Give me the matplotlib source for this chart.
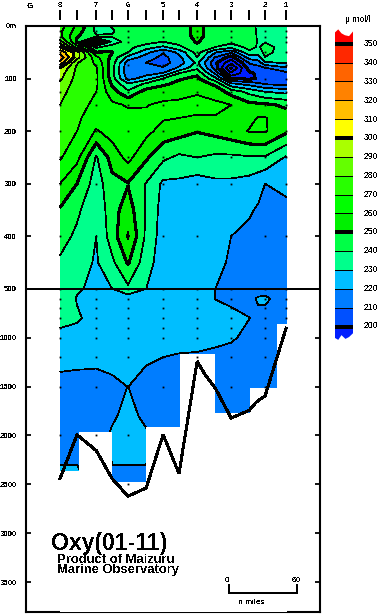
import numpy as np
import matplotlib
matplotlib.use("Agg")
import matplotlib.pyplot as plt
from matplotlib.path import Path
from matplotlib.patches import PathPatch

plt.rcParams['font.family'] = ['Liberation Sans', 'DejaVu Sans']
plt.rcParams['text.antialiased'] = False

# ---------- data ----------
depths = [0, 10, 20, 30, 40, 50, 60, 70, 80, 90, 100, 110, 125, 150, 175, 200, 250, 300, 350,
          400, 450, 500, 600, 800, 1000, 1200, 1500, 1800, 2000, 2300, 2500]
# distance along the section, n.miles from station 8
section_dist = [0, 15, 32, 46, 60, 76, 91, 105, 121, 137, 151, 167, 175, 181, 199.5]

c8 = [275, 272, 272, 285, 302, 316, 328, 316, 300, 295, 292, 288, 284, 280, 278, 275, 271, 260, 249,
      244, 238.5, 237, 236, 232, 228, 224, 216, 215, 215, 220, 225]
c75 = [258, 255, 251, 248, 265, 296, 294, 281, 278, 277, 276, 275, 274, 273, 271.5, 270, 263, 250, 242,
       238, 234, 231, 229.5, 231, 227, 223, 216, 215, 215, 220, 225]
c7 = [238, 238, 241, 198, 238, 250.5, 263, 268, 271, 272, 272, 272, 270, 268, 265, 259, 239, 235, 232,
      230, 229, 228, 227, 227, 227, 222.5, 216, 214, 214, 216, 216]
c65 = [240.5, 239, 241, 233, 245, 250.5, 247, 245, 244, 243, 245, 248.5, 254, 262, 264, 264, 254, 247, 246,
       245, 238, 230, 226, 226, 226, 223, 218, 218, 222, 220, 216]
c6 = [246, 246, 246, 245, 243, 240, 226, 214, 212, 213, 216, 231, 242, 259, 263, 265, 263, 249.5, 255,
      261, 251, 238, 224, 227, 227, 225, 220.1, 224, 225, 220, 217]
c55 = [245, 245, 245, 244, 235, 223, 215, 210, 211, 216.5, 225, 242, 254, 259.5, 262, 263, 251.5, 239.5, 239,
       238, 234, 230, 227, 226, 225, 222, 215, 217, 222, 220, 216]
c5 = [245, 245, 244, 240, 228, 211, 207, 206, 211, 221, 240, 248.5, 255, 262, 261, 256, 242, 228, 226,
      225, 225, 225, 225, 225, 225, 220, 215, 214, 213, 213, 213]
c45 = [245, 245, 245, 243, 238, 223, 216, 215, 222, 240, 249, 252, 257, 262, 260, 254, 238, 228, 226,
       225, 225, 225, 225, 225, 224, 219, 214, 213, 213, 213, 213]
c4 = [253, 253, 252.5, 251, 247, 244, 240, 232, 238, 248, 252, 255, 259, 263, 259, 250.5, 240, 225, 225,
      225, 224, 224, 224, 224, 224, 218.5, 214, 213, 213, 213, 213]
c35 = [245, 245, 245, 243, 240, 221, 209, 202, 205, 218, 233, 248, 256, 262, 259.5, 253, 238, 228, 226,
       224, 222, 220, 219.9, 222, 222, 218, 214, 213, 213, 213, 213]
c3 = [245, 245, 245, 243, 234, 212, 195, 182, 168, 182, 200, 222, 246, 260, 258, 256, 238, 228, 224,
      220, 219, 218, 218.5, 222, 221, 217, 216, 215, 215, 215, 215]
c25 = [242, 243, 244, 245, 243, 238, 224, 211, 205, 198, 198, 216, 237, 253, 258, 260.5, 239, 226, 221,
       218, 217, 217, 218, 220.1, 218, 215, 214, 214, 214, 214, 214]
c225 = [239, 239, 239, 239, 239, 235, 226, 215, 206, 202, 201, 212, 233, 252.5, 260.5, 261, 239, 223, 219,
        217, 216, 216, 221, 218, 216, 214, 214, 214, 214, 214, 214]
c2 = [237, 237, 238, 239.5, 243, 243, 239.5, 228, 209, 205, 203, 209, 230, 252, 260.5, 261, 239, 220, 217,
      216, 215.5, 215, 222, 216, 215, 214, 214, 214, 214, 214, 214]
c1 = [236, 236, 236, 236, 236, 235, 233, 231, 218, 207, 204, 206, 227, 248, 255, 252, 229, 222, 218,
      216, 215, 214, 214, 213, 213, 213, 213, 213, 213, 213, 213]

# white area below the deepest reading of each station
cell_edges = [0, 16.8, 45.9, 75.6, 105.9, 136.8, 167.6, 191.2, 200]
cell_bottom = [2367, 1966, 2473, 1914, 1168, 1770, 1514, 860]

# sea bottom profile
bottom_dist = [0, 15, 32, 46, 60, 76, 91, 105, 121, 128, 137, 151, 167, 173, 181, 199.5]
bottom_depth = [2441, 1992, 2155, 2441, 2622, 2537, 1992, 2390, 1242, 1379, 1515, 1822, 1743, 1661, 1593, 902]

# stations
station_labels = ['8', '7', '6', '5', '4', '3', '2', '1']
station_dist = [0, 32, 60, 91, 121, 151, 181, 199.5]
station_bottom = [2441, 2155, 2622, 1992, 1242, 1822, 1593, 902]
half_station_dist = [15, 46, 76, 105, 137, 167]
sample_depths = [10, 20, 30, 50, 75, 100, 125, 150, 200, 250, 300, 400, 500, 600, 700, 800, 900, 1000,
                 1200, 1500, 2000, 2500]

# axis
depth_ticks = [0, 100, 200, 300, 400, 500, 1000, 1500, 2000, 2500, 3000, 3500]
depth_labels = ['0m', '100', '200', '300', '400', '500', '1000', '1500', '2000', '2500', '3000', '3500']

# colour scale: lower bound -> colour
band_levels = [160, 170, 180, 190, 200, 210, 220, 230, 240, 250, 260, 270, 280, 290, 300, 310, 320, 330, 340, 350, 400]
band_rgb = [(0, 30, 255), (0, 30, 255), (0, 30, 255), (0, 30, 255), (0, 80, 255), (0, 125, 255), (0, 190, 255),
            (0, 255, 140), (0, 255, 70), (0, 240, 0), (0, 255, 0), (40, 255, 0), (100, 255, 0), (170, 255, 0),
            (255, 255, 0), (255, 190, 0), (255, 130, 0), (255, 100, 0), (255, 40, 0), (255, 0, 0)]
cbar_ticks = [200, 210, 220, 230, 240, 250, 260, 270, 280, 290, 300, 310, 320, 330, 340, 350]
thick_levels = [200, 250, 300, 350]
thin_levels = [v for v in band_levels[:-1] if v not in thick_levels]

# ---------- figure ----------
W, H = 381, 616
dpi = 100
fig = plt.figure(figsize=(W / dpi, H / dpi), dpi=dpi, facecolor='white')


def box(x0, y0, x1, y1):
    return [x0 / W, 1 - y1 / H, (x1 - x0) / W, (y1 - y0) / H]


ax = fig.add_axes(box(26, 26, 320, 612))
upper_rate, lower_rate = 0.526, 0.0978


def forward(d):
    d = np.asarray(d, dtype=float)
    return np.where(d <= 500, d * upper_rate, 500 * upper_rate + (d - 500) * lower_rate)


def inverse(p):
    p = np.asarray(p, dtype=float)
    knee = 500 * upper_rate
    return np.where(p <= knee, p / upper_rate, 500 + (p - knee) / lower_rate)


ax.set_yscale('function', functions=(forward, inverse))
ax.set_xlim(-30, 229.4)
ax.set_ylim(3806, 0)

Z = np.array([c8, c75, c7, c65, c6, c55, c5, c45, c4, c35, c3, c25, c225, c2, c1]).T
colors = ['#%02x%02x%02x' % c for c in band_rgb]
ax.contourf(section_dist, depths, Z, levels=band_levels, colors=colors, antialiased=False, zorder=1)
ax.contour(section_dist, depths, Z, levels=thin_levels, colors='k', linewidths=0.5,
           antialiased=False, zorder=2)
ax.contour(section_dist, depths, Z, levels=thick_levels, colors='k', linewidths=1.5,
           antialiased=False, zorder=2)

ax.fill_between(cell_edges, cell_bottom + cell_bottom[-1:], 3806, step='post', color='white', lw=0, zorder=3)
ax.plot(bottom_dist, bottom_depth, color='k', lw=1.45, zorder=4, solid_joinstyle='miter', antialiased=False)

# sample dots
for sx, sb in zip(station_dist, station_bottom):
    ds = [d for d in sample_depths if d <= sb]
    ax.plot([sx] * len(ds), ds, ls='', marker='s', ms=1.3, mew=0, color='k', zorder=5)

ax.axhline(500, color='k', lw=1.3, zorder=6, antialiased=False)

ax.set_xticks([])
ax.set_yticks(depth_ticks)
ax.set_yticklabels(depth_labels, fontsize=5.6, fontweight='bold')
ax.yaxis.set_minor_locator(matplotlib.ticker.NullLocator())
ax.tick_params(axis='y', which='major', direction='in', left=True, right=True, length=3.6, width=1.3, pad=6.5)
for s in ax.spines.values():
    s.set_linewidth(1.5)

# station ticks above the frame
tr = ax.get_xaxis_transform()
ax.vlines(station_dist + half_station_dist, 1.0102, 1.0273, transform=tr, color='k', lw=1.2, clip_on=False,
          antialiased=False)
for lab, sx in zip(station_labels, station_dist):
    ax.text(sx, 1.0358, lab, transform=tr, ha='center', va='center', fontsize=5.6, fontweight='bold')
fig.text(29.5 / W, 1 - 7 / H, 'G', ha='center', va='center', fontsize=6, fontweight='bold')

# titles
fig.text(51 / W, 1 - 550 / H, 'Oxy(01-11)', fontsize=16.6, fontweight='bold', ha='left', va='baseline')
fig.text(57 / W, 1 - 563 / H, 'Product of Maizuru', fontsize=9.4, fontweight='bold', ha='left', va='baseline')
fig.text(57 / W, 1 - 573.5 / H, 'Marine Observatory', fontsize=9.4, fontweight='bold', ha='left', va='baseline')

# scale bar
bar_x = [149, 149, 209, 209]
bar_y = [3530, 3612, 3612, 3530]
ax.plot(bar_x, bar_y, color='k', lw=1.2, zorder=6, solid_joinstyle='miter', antialiased=False)
fig.text(227 / W, 1 - 581 / H, '0', fontsize=6, ha='center', va='center')
fig.text(296 / W, 1 - 581 / H, '60', fontsize=6, ha='center', va='center')
fig.text(252 / W, 1 - 602 / H, 'n.miles', fontsize=6, ha='center', va='center')

# colour bar
cax = fig.add_axes(box(335, 29, 353, 344))
top_val, bot_val = 357.8, 190.8
cax.set_xlim(0, 1)
cax.set_ylim(bot_val, top_val)
cax.axis('off')
wave = [(0, 356), (0.18, 357.6), (0.36, 355.5), (0.55, 354.5), (0.78, 354), (1, 356.5), (1, 196.5),
        (0.78, 194.5), (0.58, 193.5), (0.36, 195.5), (0.18, 193), (0, 194), (0, 356)]
clip = PathPatch(Path(wave), transform=cax.transData, fc='none', ec='none')
cax.add_patch(clip)
edges = [bot_val] + cbar_ticks + [top_val]
rgb = [band_rgb[0]] + band_rgb[4:]
for lo, hi, c in zip(edges[:-1], edges[1:], rgb):
    b = cax.barh(lo, 1, height=hi - lo, left=0, align='edge', color='#%02x%02x%02x' % c, lw=0)
    b[0].set_clip_path(clip)
for v in cbar_ticks:
    th = v in thick_levels
    cax.plot([0, 1], [v, v], color='k', lw=1.5 if th else 0.5, antialiased=False, solid_capstyle='butt')
    fig.text(364 / W, 1 - (326 - (v - 200) * 1.88) / H, str(v), fontsize=6.2, ha='left', va='center')
fig.text(358 / W, 1 - 19 / H, '\u03bc mol/l', fontsize=6.2, ha='center', va='center')

fig.savefig('out.png', dpi=dpi)
